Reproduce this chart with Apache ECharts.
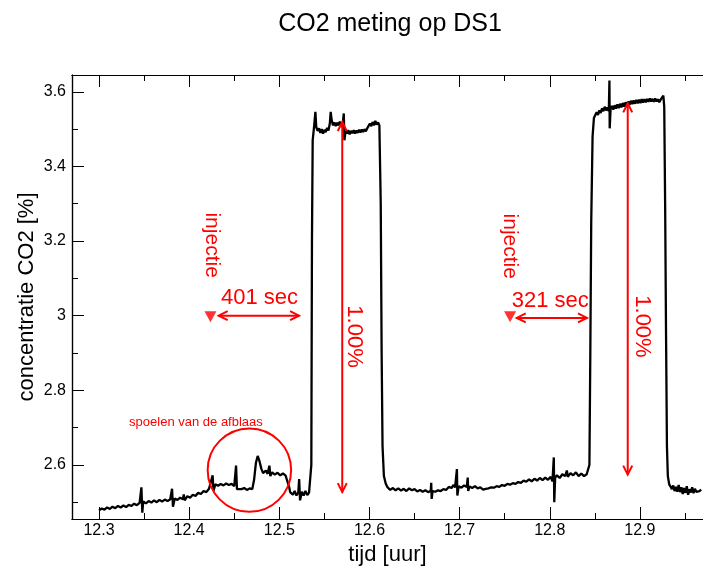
<!DOCTYPE html>
<html>
<head>
<meta charset="utf-8">
<title>CO2 meting op DS1</title>
<script src="https://cdn.jsdelivr.net/npm/echarts@6/dist/echarts.min.js"></script>
<style>
  html, body { margin: 0; padding: 0; background: #fff; }
  #chart { width: 703px; height: 571px; }
</style>
</head>
<body>
<div id="chart"></div>
<script>
// measured CO2 trace, [tijd (uur), concentratie (%)], split per section
const baselineBefore = [
    [12.300, 2.478], [12.303, 2.483], [12.306, 2.480], [12.309, 2.486], [12.312, 2.482],
    [12.315, 2.488], [12.318, 2.484], [12.321, 2.490], [12.324, 2.486], [12.327, 2.491],
    [12.330, 2.487], [12.333, 2.493], [12.336, 2.490], [12.339, 2.496], [12.342, 2.492],
    [12.345, 2.498], [12.347, 2.540], [12.348, 2.472], [12.349, 2.502], [12.352, 2.497],
    [12.355, 2.503], [12.358, 2.499], [12.361, 2.505], [12.364, 2.500], [12.367, 2.506],
    [12.370, 2.502], [12.373, 2.507], [12.376, 2.503], [12.379, 2.508], [12.381, 2.536],
    [12.382, 2.488], [12.384, 2.510], [12.387, 2.506], [12.390, 2.512], [12.393, 2.508],
    [12.394, 2.521], [12.395, 2.505], [12.398, 2.516], [12.401, 2.512], [12.404, 2.520],
    [12.407, 2.517], [12.410, 2.525], [12.413, 2.522], [12.416, 2.530], [12.419, 2.527],
    [12.422, 2.536], [12.424, 2.540], [12.426, 2.572], [12.427, 2.530], [12.429, 2.548],
    [12.432, 2.544], [12.435, 2.549], [12.438, 2.545], [12.441, 2.550], [12.444, 2.546],
    [12.447, 2.549], [12.450, 2.543], [12.452, 2.598], [12.453, 2.535], [12.455, 2.540],
    [12.458, 2.535], [12.461, 2.538], [12.464, 2.533], [12.467, 2.537], [12.470, 2.535],
    [12.472, 2.560], [12.474, 2.605], [12.476, 2.624], [12.478, 2.610], [12.480, 2.590],
    [12.482, 2.578], [12.485, 2.585], [12.487, 2.576], [12.489, 2.598], [12.490, 2.570],
    [12.492, 2.580], [12.495, 2.574], [12.498, 2.579], [12.501, 2.572], [12.504, 2.577],
    [12.507, 2.571], [12.509, 2.574], [12.511, 2.540], [12.512, 2.527], [12.515, 2.520],
    [12.517, 2.530], [12.519, 2.518], [12.521, 2.526], [12.522, 2.562], [12.523, 2.505],
    [12.525, 2.528], [12.527, 2.518], [12.529, 2.530], [12.531, 2.519], [12.533, 2.526],
    [12.535, 2.530]
];

const firstPulse = [
    [12.5355, 2.600], [12.5362, 3.200], [12.5370, 3.470], [12.5385, 3.505], [12.5400, 3.546],
    [12.5410, 3.505], [12.5425, 3.495], [12.5440, 3.502], [12.5455, 3.490], [12.5470, 3.500],
    [12.5485, 3.488], [12.5500, 3.498], [12.5515, 3.492], [12.5530, 3.503], [12.5545, 3.496],
    [12.5560, 3.515], [12.5570, 3.546], [12.5580, 3.525], [12.5595, 3.510], [12.5610, 3.518],
    [12.5625, 3.508], [12.5640, 3.517], [12.5655, 3.510], [12.5670, 3.520], [12.5685, 3.512],
    [12.5700, 3.505], [12.5715, 3.542], [12.5722, 3.470], [12.5735, 3.495], [12.5750, 3.488],
    [12.5765, 3.497], [12.5780, 3.486], [12.5795, 3.495], [12.5810, 3.489], [12.5825, 3.497],
    [12.5840, 3.488], [12.5855, 3.496], [12.5870, 3.490], [12.5885, 3.498], [12.5900, 3.491],
    [12.5915, 3.499], [12.5930, 3.492], [12.5945, 3.500], [12.5960, 3.494], [12.5975, 3.502],
    [12.5990, 3.506], [12.6005, 3.515], [12.6020, 3.508], [12.6035, 3.519], [12.6050, 3.510],
    [12.6065, 3.522], [12.6080, 3.512], [12.6095, 3.518], [12.6110, 3.510], [12.6125, 3.300],
    [12.6135, 2.900], [12.6145, 2.650], [12.6160, 2.570], [12.6180, 2.550], [12.6200, 2.540],
    [12.6230, 2.533]
];

const baselineBetween = [
    [12.626, 2.538], [12.629, 2.532], [12.632, 2.537], [12.635, 2.531], [12.638, 2.536],
    [12.641, 2.530], [12.644, 2.537], [12.647, 2.532], [12.650, 2.535], [12.653, 2.529],
    [12.656, 2.533], [12.659, 2.528], [12.662, 2.532], [12.665, 2.527], [12.668, 2.531],
    [12.6685, 2.552], [12.669, 2.509], [12.670, 2.530], [12.673, 2.528], [12.676, 2.532],
    [12.679, 2.530], [12.682, 2.535], [12.685, 2.533], [12.688, 2.541], [12.691, 2.538],
    [12.693, 2.546], [12.695, 2.540], [12.697, 2.589], [12.6975, 2.518], [12.699, 2.543],
    [12.702, 2.539], [12.705, 2.545], [12.708, 2.541], [12.709, 2.566], [12.7095, 2.530],
    [12.711, 2.542], [12.714, 2.538], [12.717, 2.543], [12.720, 2.537], [12.723, 2.540],
    [12.726, 2.534], [12.729, 2.536], [12.732, 2.537], [12.735, 2.540], [12.738, 2.539],
    [12.741, 2.543], [12.744, 2.541], [12.747, 2.546], [12.750, 2.544], [12.753, 2.549],
    [12.756, 2.547], [12.759, 2.551], [12.762, 2.549], [12.765, 2.554], [12.768, 2.552],
    [12.771, 2.558], [12.774, 2.555], [12.777, 2.561], [12.780, 2.556], [12.783, 2.563],
    [12.786, 2.558], [12.789, 2.565], [12.792, 2.559], [12.795, 2.566], [12.798, 2.560],
    [12.801, 2.568], [12.803, 2.556], [12.8045, 2.620], [12.805, 2.500], [12.806, 2.566],
    [12.808, 2.572], [12.811, 2.565], [12.814, 2.575], [12.817, 2.570], [12.819, 2.585],
    [12.820, 2.568], [12.823, 2.578], [12.826, 2.572], [12.829, 2.580], [12.832, 2.570],
    [12.835, 2.577], [12.838, 2.570], [12.841, 2.575], [12.843, 2.572]
];

const secondPulse = [
    [12.8440, 2.600], [12.8450, 2.900], [12.8460, 3.250], [12.8475, 3.480], [12.8490, 3.530],
    [12.8505, 3.538], [12.8520, 3.545], [12.8535, 3.538], [12.8550, 3.550], [12.8565, 3.543],
    [12.8580, 3.556], [12.8595, 3.548], [12.8610, 3.560], [12.8625, 3.550], [12.8640, 3.558],
    [12.8655, 3.548], [12.8662, 3.630], [12.8665, 3.502], [12.8675, 3.555], [12.8690, 3.562],
    [12.8705, 3.552], [12.8720, 3.564], [12.8735, 3.555], [12.8750, 3.566], [12.8765, 3.556],
    [12.8780, 3.568], [12.8795, 3.558], [12.8810, 3.570], [12.8825, 3.560], [12.8840, 3.572],
    [12.8855, 3.563], [12.8870, 3.574], [12.8885, 3.565], [12.8900, 3.576], [12.8915, 3.567],
    [12.8930, 3.577], [12.8945, 3.568], [12.8960, 3.578], [12.8975, 3.569], [12.8990, 3.579],
    [12.9005, 3.570], [12.9020, 3.580], [12.9035, 3.571], [12.9050, 3.580], [12.9065, 3.572],
    [12.9080, 3.581], [12.9095, 3.573], [12.9110, 3.582], [12.9125, 3.574], [12.9140, 3.581],
    [12.9155, 3.573], [12.9170, 3.582], [12.9185, 3.574], [12.9200, 3.580], [12.9215, 3.572],
    [12.9230, 3.579], [12.9245, 3.574], [12.9260, 3.590], [12.9270, 3.560], [12.9280, 3.300],
    [12.9290, 2.950], [12.9300, 2.650], [12.9310, 2.570], [12.9325, 2.548]
];

const baselineAfter = [
    [12.9340, 2.542], [12.9355, 2.535], [12.9370, 2.545], [12.9385, 2.530], [12.9400, 2.541],
    [12.9415, 2.528], [12.9430, 2.546], [12.9445, 2.527], [12.9460, 2.540], [12.9475, 2.522],
    [12.9490, 2.538], [12.9505, 2.525], [12.9520, 2.543], [12.9535, 2.520], [12.9550, 2.535],
    [12.9565, 2.526], [12.9580, 2.540], [12.9595, 2.524], [12.9610, 2.536], [12.9625, 2.528],
    [12.9640, 2.533], [12.9660, 2.530], [12.9680, 2.534]
];

// axis ticks
const xMajorTicks = [12.3, 12.4, 12.5, 12.6, 12.7, 12.8, 12.9];
const xMinorTicks = [12.35, 12.45, 12.55, 12.65, 12.75, 12.85, 12.95];
const yMajorTicks = [2.6, 2.8, 3.0, 3.2, 3.4, 3.6];
const yMinorTicks = [2.5, 2.7, 2.9, 3.1, 3.3, 3.5];

// annotations (data coordinates)
const injectionPoints = [[12.4236, 2.997], [12.756, 2.997]];
const injectionLabelPos = [[12.425, 3.189], [12.7555, 3.186]];
const injectionLabels = ['injectie', 'injectie'];
const delayArrows = [[12.4327, 12.5219, 3.0], [12.7634, 12.8413, 2.994]];   // [t1, t2, level]
const delayLabelPos = [[12.478, 3.047], [12.8006, 3.040]];
const delayLabels = ['401 sec', '321 sec'];
const stepArrows = [[12.5698, 2.527, 3.519], [12.8865, 2.574, 3.569]];      // [t, low, high]
const stepLabelPos = [[12.5825, 2.944], [12.9019, 2.971]];
const stepLabels = ['1.00%', '1.00%'];
const flushCircle = [[12.4668, 2.586, 0.0463]];                              // [t, v, radius in t]
const flushLabelPos = [[12.4075, 2.713]];
const flushLabels = ['spoelen van de afblaas'];

const RED = '#ff0000';
const FONT = '"Liberation Sans", Arial, Helvetica, sans-serif';

const trace = [].concat(baselineBefore, firstPulse, baselineBetween, secondPulse, baselineAfter);

const chart = echarts.init(document.getElementById('chart'));

// chevron headed arrow between two pixel points
function arrowGroup(p1, p2) {
    const dx = p2[0] - p1[0];
    const dy = p2[1] - p1[1];
    const len = Math.hypot(dx, dy) || 1;
    const ux = dx / len, uy = dy / len;
    const hl = 9, hw = 4.5;
    const head = (p, s) => [
        [p[0] - s * ux * hl - uy * hw, p[1] - s * uy * hl + ux * hw],
        [p[0], p[1]],
        [p[0] - s * ux * hl + uy * hw, p[1] - s * uy * hl - ux * hw]
    ];
    const style = { stroke: RED, lineWidth: 2, fill: 'none' };
    return {
        type: 'group',
        children: [
            { type: 'line', shape: { x1: p1[0], y1: p1[1], x2: p2[0], y2: p2[1] }, style },
            { type: 'polyline', shape: { points: head(p2, 1) }, style },
            { type: 'polyline', shape: { points: head(p1, -1) }, style }
        ]
    };
}

function textSeries(positions, texts, fontSize, rotation) {
    return {
        type: 'custom',
        silent: true,
        z: 20,
        data: positions,
        renderItem: (params, api) => {
            const p = api.coord([api.value(0), api.value(1)]);
            return {
                type: 'text',
                x: p[0],
                y: p[1],
                rotation: rotation,
                style: {
                    text: texts[params.dataIndex],
                    fill: RED,
                    font: `${fontSize}px ${FONT}`,
                    textAlign: 'center',
                    textVerticalAlign: 'middle',
                    align: 'center',
                    verticalAlign: 'middle'
                }
            };
        }
    };
}

const tickLabelStyle = { color: '#000', fontSize: 16, fontFamily: FONT };
const axisLineStyle = { lineStyle: { color: '#000', width: 1.2 } };

function xAxisDef(position, ticks, len, withLabels) {
    return {
        type: 'value',
        position: position,
        min: 12.27,
        max: 12.97,
        axisLine: Object.assign({ show: true, onZero: false }, axisLineStyle),
        axisTick: { show: true, inside: true, length: len, customValues: ticks, lineStyle: { color: '#000', width: 1 } },
        axisLabel: withLabels
            ? Object.assign({ show: true, margin: 4, customValues: ticks, formatter: v => v.toFixed(1) }, tickLabelStyle)
            : { show: false },
        splitLine: { show: false }
    };
}

function yAxisDef(ticks, len, withLabels) {
    return {
        type: 'value',
        position: 'left',
        min: 2.455,
        max: 3.645,
        axisLine: Object.assign({ show: true, onZero: false }, axisLineStyle),
        axisTick: { show: true, inside: true, length: len, customValues: ticks, lineStyle: { color: '#000', width: 1 } },
        axisLabel: withLabels
            ? Object.assign({ show: true, margin: 6, customValues: ticks, formatter: v => String(Math.round(v * 10) / 10) }, tickLabelStyle)
            : { show: false },
        splitLine: { show: false }
    };
}

const xBottom = xAxisDef('bottom', xMajorTicks, 12, true);
xBottom.name = 'tijd [uur]';
xBottom.nameLocation = 'middle';
xBottom.nameGap = 25;
xBottom.nameMoveOverlap = false;
xBottom.nameTextStyle = { color: '#000', fontSize: 22, fontFamily: FONT, verticalAlign: 'top' };

const yLeft = yAxisDef(yMajorTicks, 12, true);
yLeft.name = 'concentratie CO2 [%]';
yLeft.nameLocation = 'middle';
yLeft.nameGap = 34;
yLeft.nameMoveOverlap = false;
yLeft.nameTextStyle = { color: '#000', fontSize: 22, fontFamily: FONT };

const option = {
    animation: false,
    backgroundColor: '#fff',
    title: {
        text: 'CO2 meting op DS1',
        left: 385,
        top: 7,
        textAlign: 'center',
        textStyle: { color: '#000', fontSize: 25, fontWeight: 'normal', fontFamily: FONT }
    },
    grid: { left: 72, top: 75, bottom: 49, right: -4.6, containLabel: false },
    xAxis: [
        xBottom,
        xAxisDef('bottom', xMinorTicks, 6, false),
        xAxisDef('top', xMajorTicks, 12, false),
        xAxisDef('top', xMinorTicks, 6, false)
    ],
    yAxis: [
        yLeft,
        yAxisDef(yMinorTicks, 6, false)
    ],
    series: [
        {
            name: 'CO2',
            type: 'line',
            data: trace,
            showSymbol: false,
            symbol: 'none',
            lineStyle: { color: '#000', width: 2.3 },
            z: 5
        },
        {
            // injection moments
            type: 'scatter',
            data: injectionPoints,
            symbol: 'triangle',
            symbolRotate: 180,
            symbolSize: [12, 11],
            itemStyle: { color: RED },
            silent: true,
            z: 20
        },
        {
            type: 'custom',
            silent: true,
            z: 20,
            data: delayArrows,
            renderItem: (params, api) => arrowGroup(
                api.coord([api.value(0), api.value(2)]),
                api.coord([api.value(1), api.value(2)])
            )
        },
        {
            type: 'custom',
            silent: true,
            z: 20,
            data: stepArrows,
            renderItem: (params, api) => arrowGroup(
                api.coord([api.value(0), api.value(1)]),
                api.coord([api.value(0), api.value(2)])
            )
        },
        {
            type: 'custom',
            silent: true,
            z: 20,
            data: flushCircle,
            renderItem: (params, api) => {
                const c = api.coord([api.value(0), api.value(1)]);
                const r = api.size([api.value(2), 0])[0];
                return {
                    type: 'circle',
                    shape: { cx: c[0], cy: c[1], r: r },
                    style: { fill: 'none', stroke: RED, lineWidth: 2 }
                };
            }
        },
        textSeries(injectionLabelPos, injectionLabels, 21, -Math.PI / 2),
        textSeries(delayLabelPos, delayLabels, 22, 0),
        textSeries(stepLabelPos, stepLabels, 22, -Math.PI / 2),
        textSeries(flushLabelPos, flushLabels, 13, 0)
    ]
};

chart.setOption(option);
</script>
</body>
</html>
